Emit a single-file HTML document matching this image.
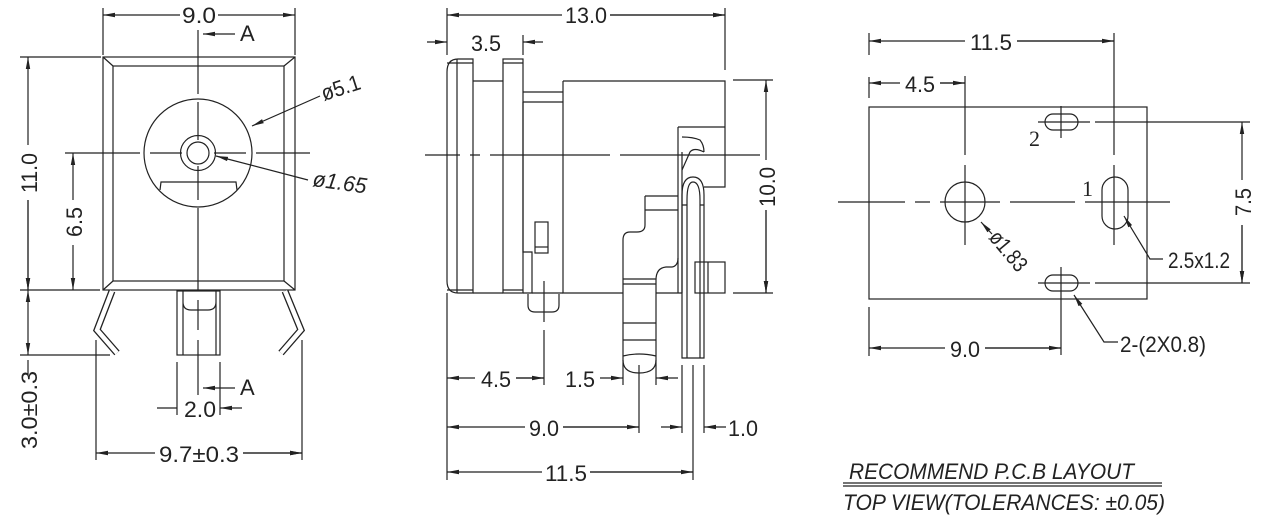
<!DOCTYPE html>
<html><head><meta charset="utf-8"><style>
html,body{margin:0;padding:0;background:#fff;}
svg{display:block}
text{font-family:"Liberation Sans",sans-serif;fill:#222;font-size:22px}
</style></head><body>
<svg width="1288" height="522" viewBox="0 0 1288 522" xmlns="http://www.w3.org/2000/svg">
<defs>
<marker id="a" viewBox="0 0 12 6" refX="12" refY="3" markerWidth="12" markerHeight="6" markerUnits="userSpaceOnUse" orient="auto-start-reverse"><path d="M0,0.8 L12,3 L0,5.2z" fill="#222"/></marker>
</defs>
<g stroke="#222" stroke-width="1.2" fill="none">
<!-- ===== LEFT VIEW ===== -->
<rect x="103" y="57" width="192" height="233"/>
<rect x="113" y="66" width="171" height="215"/>
<path d="M103,57 L113,66 M295,57 L284,66 M103,290 L113,281 M295,290 L284,281"/>
<circle cx="198" cy="153" r="54"/>
<circle cx="198" cy="153" r="17.5"/>
<circle cx="198" cy="153" r="11"/>
<path d="M160,190 L161,182 L236,182 L237,190"/>
<path d="M198,30 V94 M198,102 V140 M198,166 V200 M198,208 V290 M198,300 V330 M198,340 V395" />
<path d="M85,153 H140 M150,153 H182 M214,153 H246 M256,153 H310"/>
<path d="M112,291 L97,330 L117,353" stroke-width="7" stroke-linejoin="miter"/>
<path d="M112,291 L97,330 L117,353" stroke="#fff" stroke-width="4.4"/>
<path d="M285,291 L301,330 L281,353" stroke-width="7"/>
<path d="M285,291 L301,330 L281,353" stroke="#fff" stroke-width="4.4"/>
<rect x="177" y="291" width="43" height="64"/>
<path d="M183,291 V355 M216,291 V355 M183,302 Q183,310 191,310 H208 Q216,310 216,302"/>
<path d="M103,8 V55 M295,8 V55"/>
<path d="M103,15 H180 M218,15 H295" marker-start="url(#a)" marker-end="url(#a)"/>
<path d="M235,34 H203" marker-end="url(#a)"/>
<path d="M235,388 H203" marker-end="url(#a)"/>
<path d="M20,57 H101 M20,290 H100 M20,355 H110"/>
<path d="M28,57 V145 M28,200 V290" marker-start="url(#a)" marker-end="url(#a)"/>
<path d="M28,200 V290" marker-end="url(#a)"/>
<path d="M28,290 V355" marker-start="url(#a)" marker-end="url(#a)"/>
<path d="M28,360 V375"/>
<path d="M65,153 H85"/>
<path d="M73,153 V200 M73,245 V290" marker-start="url(#a)" marker-end="url(#a)"/>
<path d="M177,362 V415 M220,362 V415"/>
<path d="M157,408 H177 M242,408 H220" marker-end="url(#a)"/>
<path d="M96,340 V460 M302,340 V460"/>
<path d="M96,453 H155 M243,453 H302" marker-start="url(#a)" marker-end="url(#a)"/>
<path d="M243,453 H302" marker-end="url(#a)"/>
<path d="M320,96 L252,126" marker-end="url(#a)"/>
<path d="M308,180 L216,156" marker-end="url(#a)"/>

<!-- ===== MIDDLE VIEW ===== -->
<path d="M473,59 H458 Q447,59 447,72 V281 Q447,293 458,293 H473 Z"/>
<path d="M457,59 V293 M447,63 H473 M447,290 H473"/>
<path d="M473,81 H503 M473,293 H503"/>
<rect x="503" y="59" width="20" height="234"/>
<path d="M503,63 H523 M503,290 H523"/>
<path d="M523,92 H563 M523,102 H563 M523,102 V252 H532 V293 H523"/>
<rect x="535" y="222" width="13" height="31"/>
<path d="M535,247 H548"/>
<path d="M532,293 H563"/>
<path d="M528,294 V305 Q528,312 535,312 H552 Q559,312 559,305 V294"/>
<path d="M563,81 H725 V187 H704 M563,81 V293 H623 M656,293 H682"/>
<path d="M678,127 H725 M678,127 V293"/>
<path d="M682,137 Q693,137 700,140 Q704,145 704,152 M682,170 L690,152 Q694,147 704,152"/>
<path d="M682,152 V293"/>
<path d="M645,196 H678 M645,210 H678 M645,196 V225 Q645,232 637,232 H630 Q623,232 623,240 V360 Q623,373 639,373 Q656,373 656,360 V280 Q656,268 666,267 H672 Q678,266 678,258"/>
<path d="M623,279 H656 M623,284 H656 M623,323 H656 M623,340 H656 M623,356 Q639,352 656,356"/>
<path d="M682,358 V195 Q682,177 693,177 Q704,177 704,195 V358 Z"/>
<path d="M687,358 V200 Q687,182 693,182 Q700,182 700,200 V358 M682,205 H687 M700,205 H704"/>
<rect x="695" y="262" width="30" height="31"/>
<path d="M708,262 V293"/>
<path d="M425,155 H460 M470,155 H480 M490,155 H610 M620,155 H760"/>
<path d="M544,281 V322"/>
<path d="M447,8 V55 M725,8 V70"/>
<path d="M447,15 H562 M610,15 H725" marker-start="url(#a)" marker-end="url(#a)"/>
<path d="M610,15 H725" marker-end="url(#a)"/>
<path d="M523,35 V55"/>
<path d="M427,42 H447" marker-end="url(#a)"/>
<path d="M543,42 H523" marker-end="url(#a)"/>
<path d="M733,80 H773 M733,293 H773"/>
<path d="M766,80 V160 M766,210 V293" marker-start="url(#a)" marker-end="url(#a)"/>
<path d="M766,210 V293" marker-end="url(#a)"/>
<path d="M447,293 V480 M544,330 V385 M623,360 V385 M656,360 V385 M639,365 V433 M682,365 V433 M693,365 V480 M704,365 V433"/>
<path d="M447,378 H475 M516,378 H544" marker-start="url(#a)"/>
<path d="M516,378 H544" marker-end="url(#a)"/>
<path d="M600,378 H623" marker-end="url(#a)"/>
<path d="M678,378 H656" marker-end="url(#a)"/>
<path d="M447,427 H525 M563,427 H639" marker-start="url(#a)"/>
<path d="M563,427 H639" marker-end="url(#a)"/>
<path d="M661,427 H682" marker-end="url(#a)"/>
<path d="M726,427 H704" marker-end="url(#a)"/>
<path d="M447,472 H542 M590,472 H693" marker-start="url(#a)"/>
<path d="M590,472 H693" marker-end="url(#a)"/>

<!-- ===== RIGHT VIEW ===== -->
<rect x="869" y="107" width="278" height="192"/>
<circle cx="965" cy="202" r="20"/>
<rect x="1102" y="177" width="26" height="52" rx="13"/>
<rect x="1045" y="114" width="33" height="16" rx="8"/>
<rect x="1045" y="275" width="33" height="16" rx="8"/>
<path d="M838,202 H905 M915,202 H930 M940,202 H1000 M1010,202 H1075 M1085,202 H1170"/>
<path d="M965,76 V155 M965,165 V245"/>
<path d="M1114,33 V155 M1114,165 V245"/>
<path d="M1061,106 V138 M1061,267 V355"/>
<path d="M1038,122 H1090 M1095,122 H1250 M1038,283 H1090 M1095,283 H1250"/>
<path d="M869,33 V55 M869,77 V98 M869,307 V356"/>
<path d="M869,41 H965 M1017,41 H1114" marker-start="url(#a)"/>
<path d="M1017,41 H1114" marker-end="url(#a)"/>
<path d="M869,83 H900 M940,83 H965" marker-start="url(#a)"/>
<path d="M940,83 H965" marker-end="url(#a)"/>
<path d="M869,348 H945 M985,348 H1061" marker-start="url(#a)"/>
<path d="M985,348 H1061" marker-end="url(#a)"/>
<path d="M1242,122 V180 M1242,225 V283" marker-start="url(#a)" marker-end="url(#a)"/>
<path d="M1242,225 V283" marker-end="url(#a)"/>
<path d="M1163,259 H1150 L1124,216" marker-end="url(#a)"/>
<path d="M1118,342 H1104 L1074,295" marker-end="url(#a)"/>
<path d="M992,234 L981,222" marker-end="url(#a)"/>
<path d="M843,483 H1162 M843,486 H1162"/>
</g>
<text x="199" y="23" text-anchor="middle" textLength="34" lengthAdjust="spacingAndGlyphs">9.0</text>
<text x="240" y="41" font-size="15">A</text>
<text x="240" y="395" font-size="15">A</text>
<text transform="translate(324,101) rotate(-18)" textLength="40" lengthAdjust="spacingAndGlyphs">ø5.1</text>
<text transform="translate(312,186) rotate(8)" textLength="54" lengthAdjust="spacingAndGlyphs" font-style="italic">ø1.65</text>
<text transform="translate(37,173) rotate(-90)" text-anchor="middle" textLength="40" lengthAdjust="spacingAndGlyphs">11.0</text>
<text transform="translate(82,222) rotate(-90)" text-anchor="middle" textLength="30" lengthAdjust="spacingAndGlyphs">6.5</text>
<text transform="translate(37,410) rotate(-90)" text-anchor="middle" textLength="78" lengthAdjust="spacingAndGlyphs">3.0±0.3</text>
<text x="200" y="417" text-anchor="middle" textLength="32" lengthAdjust="spacingAndGlyphs">2.0</text>
<text x="199" y="462" text-anchor="middle" textLength="80" lengthAdjust="spacingAndGlyphs">9.7±0.3</text>

<text x="586" y="23" text-anchor="middle" textLength="42" lengthAdjust="spacingAndGlyphs">13.0</text>
<text x="486" y="51" text-anchor="middle" textLength="30" lengthAdjust="spacingAndGlyphs">3.5</text>
<text transform="translate(775,187) rotate(-90)" text-anchor="middle" textLength="40" lengthAdjust="spacingAndGlyphs">10.0</text>
<text x="496" y="387" text-anchor="middle" textLength="30" lengthAdjust="spacingAndGlyphs">4.5</text>
<text x="580" y="387" text-anchor="middle" textLength="30" lengthAdjust="spacingAndGlyphs">1.5</text>
<text x="544" y="436" text-anchor="middle" textLength="30" lengthAdjust="spacingAndGlyphs">9.0</text>
<text x="743" y="436" text-anchor="middle" textLength="30" lengthAdjust="spacingAndGlyphs">1.0</text>
<text x="566" y="481" text-anchor="middle" textLength="42" lengthAdjust="spacingAndGlyphs">11.5</text>

<text x="991" y="50" text-anchor="middle" textLength="42" lengthAdjust="spacingAndGlyphs">11.5</text>
<text x="920" y="92" text-anchor="middle" textLength="30" lengthAdjust="spacingAndGlyphs">4.5</text>
<text x="965" y="357" text-anchor="middle" textLength="30" lengthAdjust="spacingAndGlyphs">9.0</text>
<text transform="translate(1251,202) rotate(-90)" text-anchor="middle" textLength="28" lengthAdjust="spacingAndGlyphs">7.5</text>
<text x="1168" y="268" textLength="62" lengthAdjust="spacingAndGlyphs">2.5x1.2</text>
<text x="1120" y="352" textLength="86" lengthAdjust="spacingAndGlyphs">2-(2X0.8)</text>
<text x="1029" y="146" style="font-family:'Liberation Serif',serif" font-size="24">2</text>
<text x="1082" y="196" style="font-family:'Liberation Serif',serif" font-size="24">1</text>
<text transform="translate(988,238) rotate(50)" textLength="46" lengthAdjust="spacingAndGlyphs">ø1.83</text>
<text x="849" y="479" font-style="italic" textLength="285" lengthAdjust="spacingAndGlyphs">RECOMMEND  P.C.B  LAYOUT</text>
<text x="843" y="510" font-style="italic" textLength="322" lengthAdjust="spacingAndGlyphs">TOP  VIEW(TOLERANCES: ±0.05)</text>
</svg>
</body></html>
